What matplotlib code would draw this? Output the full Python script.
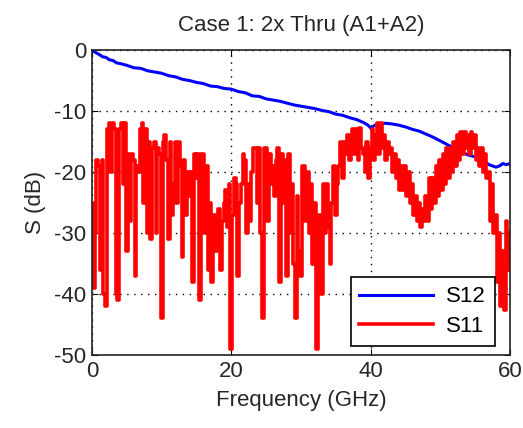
import numpy as np
import matplotlib
matplotlib.use("Agg")
import matplotlib.pyplot as plt

plt.rcParams['font.family'] = ['Liberation Sans', 'DejaVu Sans']
plt.rcParams['axes.unicode_minus'] = False

# S12 (insertion loss) sample points
s12_freq = [0, 0.5, 1, 1.5, 2, 2.5, 3, 3.5, 4, 5, 6, 7, 8, 9, 10, 11, 12, 13, 14, 15,
            16, 17, 18, 19, 20, 21, 22, 23, 24, 25, 26, 27, 28, 29, 30, 31, 32, 33,
            34, 35, 36, 37, 38, 39, 39.6, 40.1, 40.5, 41, 42, 43, 44, 45, 46, 47, 48,
            49, 50, 51, 52, 53, 54, 55, 56, 57, 58, 58.5, 59, 59.5, 60]
s12_db = [0, -0.4, -0.7, -1.1, -1.2, -1.6, -1.7, -2.1, -2.2, -2.5, -2.9, -3.0, -3.4, -3.6, -3.8,
          -4.2, -4.4, -4.8, -5.0, -5.3, -5.5, -5.9, -6.0, -6.3, -6.4, -6.8, -7.0, -7.5, -7.6,
          -8.0, -8.2, -8.4, -8.7, -9.0, -9.2, -9.4, -9.6, -9.9, -10.1, -10.5, -10.7, -11.1,
          -11.4, -11.9, -12.3, -12.9, -12.4, -12.1, -12.0, -12.1, -12.3, -12.6, -13.0,
          -13.3, -13.8, -14.3, -14.9, -15.5, -16.1, -16.7, -17.2, -17.5, -18.0, -18.8,
          -19.2, -19.0, -18.6, -18.8, -18.6]

# S11 (return loss) values every 0.25 GHz from 0 to 60 GHz
s11_freq = np.arange(0, 60.01, 0.25)
s11_db = [
    -25, -39, -30, -18,   -19, -36, -18, -40,   -42, -13, -12, -20,   -12, -13, -40, -41,
    -13, -12, -22, -12,   -33, -17, -28, -17,   -18, -37, -19, -20,   -13, -12, -25, -13,
    -30, -15, -31, -16,   -15, -30, -16, -17,   -44, -15, -14, -18,   -31, -15, -27, -22,
    -15, -25, -15, -19,   -34, -18, -27, -20,   -24, -20, -38, -17,   -21, -17, -41, -17,
    -17, -30, -19, -36,   -25, -38, -27, -33,   -30, -26, -36, -28,   -25, -23, -29, -22,
    -49, -27, -21, -22,   -37, -25, -22, -17,   -18, -30, -22, -28,   -20, -16, -16, -25,
    -16, -30, -44, -16,   -16, -28, -17, -22,   -19, -24, -18, -16,   -38, -17, -25, -18,
    -37, -17, -30, -22,   -35, -44, -24, -33,   -37, -19, -19, -28,   -20, -30, -22, -35,
    -25, -49, -33, -27,   -40, -22, -30, -22,   -29, -35, -25, -19,   -27, -22, -19, -15,
    -21, -15, -17, -14,   -18, -14, -13, -17,   -13, -18, -12.8, -16, -17, -20, -15, -21,
    -16, -13, -18, -14,   -12, -17, -12, -16,   -14, -18, -15, -17,   -16, -20, -17, -21,
    -18, -23, -19, -23,   -19, -24, -20, -25,   -22, -27, -24, -28,   -25, -29, -26, -28,
    -24, -28, -21, -26,   -21, -25, -19, -24,   -18, -23, -17, -22,   -16, -21, -16, -20,
    -15, -19, -14, -18,   -13.5, -17, -13.5, -16, -14, -17, -13.5, -16, -14, -18, -16, -19,
    -16, -20, -17, -21,   -20, -28, -22, -30,   -27, -38, -30, -42,   -33, -42.6, -28, -36,
    -30,
]

fig = plt.figure(figsize=(5.23, 4.28), dpi=100)
ax = fig.add_axes([0.176, 0.1706, 0.799, 0.7124])

ax.plot(s12_freq, s12_db, color=(0, 0, 1), lw=2.2, label='S12')
ax.plot(s11_freq, s11_db, color=(1, 0, 0), lw=2.6, drawstyle='steps-mid', label='S11')

txt = '#262626'
ax.set_xlim(0, 60)
ax.set_ylim(-50, 0)
ax.set_xticks([0, 20, 40, 60])
ax.set_yticks([0, -10, -20, -30, -40, -50])
ax.grid(True, linestyle=(0, (1, 4)), color='black', linewidth=1.0)
ax.tick_params(direction='in', labelsize=16, length=4, color='black', top=True, right=True,
               labelcolor=txt, pad=4)
for s in ax.spines.values():
    s.set_linewidth(1.2)
    s.set_color('#222222')

ax.set_title('Case 1: 2x Thru (A1+A2)', fontsize=16, color=txt, pad=14)
ax.set_xlabel('Frequency (GHz)', fontsize=16, color=txt, labelpad=6)
ax.set_ylabel('S (dB)', fontsize=16, color=txt, labelpad=6)

leg = ax.legend(loc='lower right', fontsize=16, handlelength=3.3, fancybox=False,
                framealpha=1, edgecolor='black', borderaxespad=0.4,
                bbox_to_anchor=(0.985, 0.0), labelspacing=0.4, borderpad=0.4,
                handletextpad=0.6)
leg.get_frame().set_linewidth(1.2)

fig.savefig('out.png', dpi=100)
